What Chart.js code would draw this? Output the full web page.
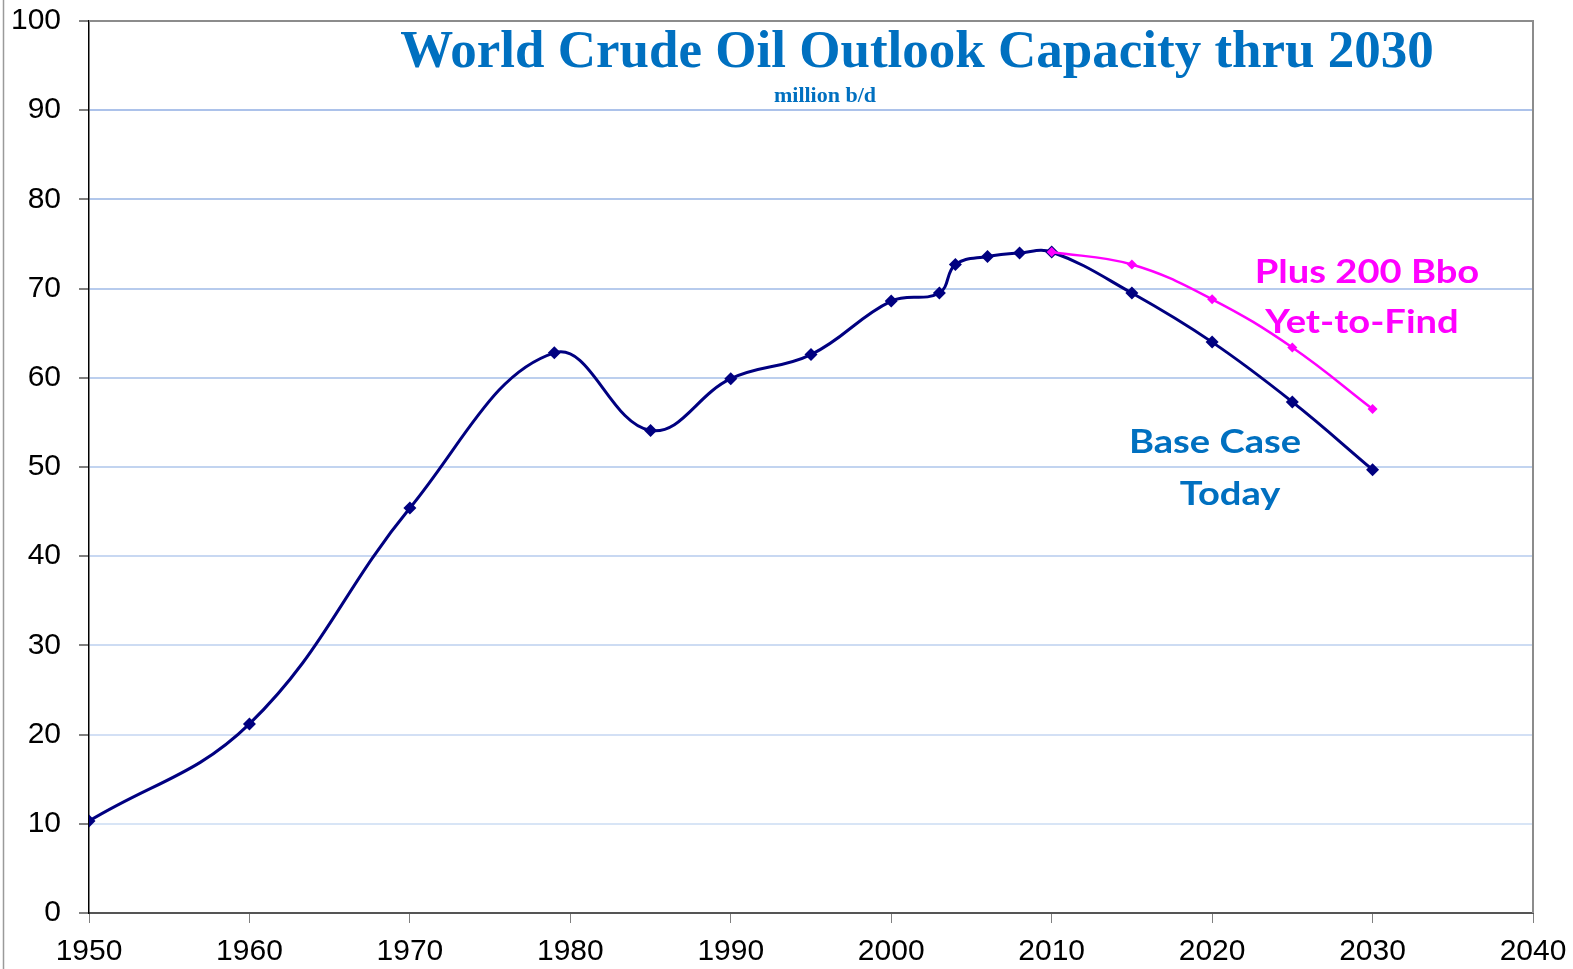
<!DOCTYPE html>
<html>
<head>
<meta charset="utf-8">
<script src="https://cdn.jsdelivr.net/npm/chart.js@4/dist/chart.umd.min.js"></script>
<style>
  html,body{margin:0;padding:0;background:#fff;}
  #wrap{width:1573px;height:969px;}
</style>
</head>
<body>
<div id="wrap"><canvas id="oilChart" width="1573" height="969"></canvas></div>
<script>
// world crude oil capacity, million b/d
const baseYears = [1950,1960,1970,1979,1985,1990,1995,2000,2003,2004,2006,2008,2010,2015,2020,2025,2030];
const baseCap   = [10.3,21.2,45.4,62.8,54.1,59.9,62.6,68.6,69.5,72.7,73.6,74.0,74.1,69.5,64.0,57.3,49.7];
const plusYears = [2010,2015,2020,2025,2030];
const plusCap   = [74.1,72.7,68.8,63.4,56.5];

const xTicks = [1950,1960,1970,1980,1990,2000,2010,2020,2030,2040];
const yTicks = [0,10,20,30,40,50,60,70,80,90,100];

const titleText = "World Crude Oil Outlook Capacity thru 2030";
const subText = "million b/d";
const plusLabel = ["Plus 200 Bbo","Yet-to-Find"];
const baseLabel = ["Base Case","Today"];

const NAVY="#000080", PINK="#ff00ff", BLUE="#0070c0";

function pts(xs,ys){ return xs.map((x,i)=>({x:x,y:ys[i]})); }

// gridlines fade out toward the bottom
function gridCol(ctx){
  const t=(ctx.tick?ctx.tick.value:0)/100;
  const a=[222,233,248], b=[166,190,232];
  const c=a.map((v,i)=>Math.round(v+(b[i]-v)*t));
  return "rgb("+c.join(",")+")";
}

// calibri-ish label: Lato bold, a bit stretched sideways
function wideText(c,txt,cx,y){
  c.save(); c.translate(cx,y); c.scale(1.155,1); c.fillText(txt,0,0); c.restore();
}

const decor = {
  id:"decor",
  beforeDraw(chart){
    const c=chart.ctx;
    c.save();
    c.fillStyle="#fff"; c.fillRect(0,0,chart.width,chart.height);
    c.strokeStyle="#9a9a9a"; c.lineWidth=1.5;
    c.beginPath(); c.moveTo(3.5,0); c.lineTo(3.5,chart.height); c.stroke();
    c.restore();
  },
  afterDatasetsDraw(chart){
    const c=chart.ctx, a=chart.chartArea;
    c.save();
    // top and right frame
    c.strokeStyle="#8c8c8c"; c.lineWidth=2;
    c.beginPath(); c.moveTo(a.left,a.top); c.lineTo(a.right,a.top); c.lineTo(a.right,a.bottom); c.stroke();
    c.textAlign="center"; c.textBaseline="alphabetic";
    c.fillStyle=BLUE;
    c.font="bold 53px 'Liberation Serif','Times New Roman',serif";
    c.fillText(titleText,917,67);
    c.font="bold 22px 'Liberation Serif','Times New Roman',serif";
    c.fillText(subText,825,102);
    c.font="bold 33px Lato,'Open Sans',sans-serif";
    c.fillStyle=PINK;
    wideText(c,plusLabel[0],1367,283);
    wideText(c,plusLabel[1],1362,333);
    c.fillStyle=BLUE;
    wideText(c,baseLabel[0],1215,453);
    wideText(c,baseLabel[1],1230,505);
    c.restore();
  }
};

new Chart(document.getElementById("oilChart"),{
  type:"line",
  data:{
    datasets:[
      {label:"Plus 200 Bbo Yet-to-Find",data:pts(plusYears,plusCap),order:0,
       borderColor:PINK,backgroundColor:PINK,borderWidth:2.5,tension:0.4,
       pointStyle:"rectRot",pointRadius:5,pointBorderWidth:0,fill:false},
      {label:"Base Case Today",data:pts(baseYears,baseCap),order:1,
       borderColor:NAVY,backgroundColor:NAVY,borderWidth:3,tension:0.4,
       pointStyle:"rectRot",pointRadius:6.5,pointBorderWidth:0,fill:false}
    ]
  },
  options:{
    responsive:false,animation:false,
    layout:{padding:{left:0,right:40,top:21,bottom:0}},
    plugins:{legend:{display:false},tooltip:{enabled:false},title:{display:false}},
    scales:{
      x:{type:"linear",min:1950,max:2040,
        afterBuildTicks(s){ s.ticks=xTicks.map(v=>({value:v})); },
        afterFit(s){ s.height=56; s.paddingLeft=0; s.paddingRight=0; },
        grid:{drawOnChartArea:false,drawTicks:true,tickLength:10,tickColor:"#808080"},
        border:{color:"#555",width:2},
        ticks:{color:"#000",padding:11,font:{family:"'Liberation Sans',Arial,sans-serif",size:30},
          callback:v=>String(v)}},
      y:{min:0,max:100,
        afterBuildTicks(s){ s.ticks=yTicks.map(v=>({value:v})); },
        afterFit(s){ s.width=89; s.paddingTop=0; s.paddingBottom=0; },
        grid:{color:gridCol,lineWidth:2,tickLength:10,tickColor:"#808080"},
        border:{color:"#000",width:1.5},
        ticks:{color:"#000",padding:18,font:{family:"'Liberation Sans',Arial,sans-serif",size:30}}}
    }
  },
  plugins:[decor]
});
</script>
</body>
</html>
